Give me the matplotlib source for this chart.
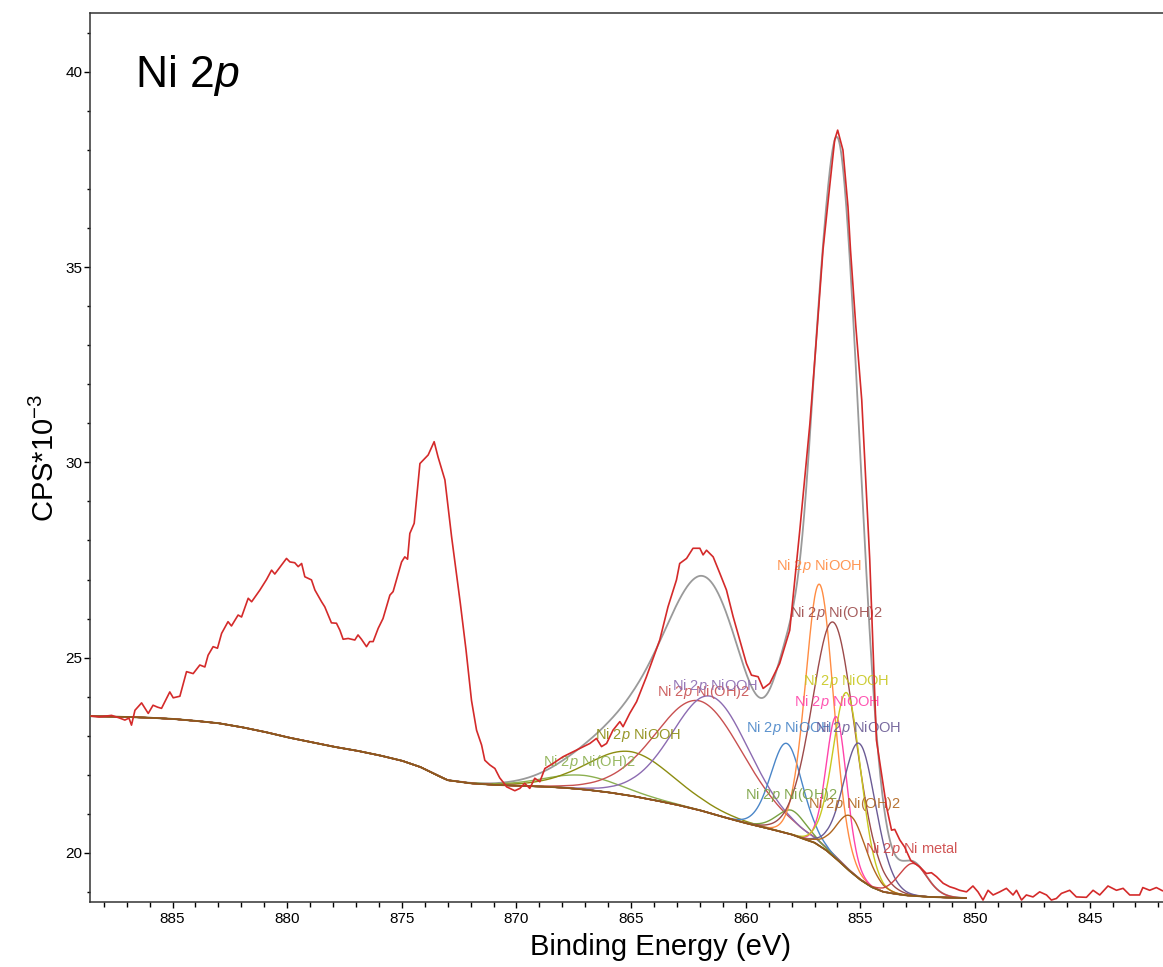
import numpy as np
import matplotlib
matplotlib.use("Agg")
import matplotlib.pyplot as plt
from matplotlib.ticker import MultipleLocator

plt.rcParams['font.family'] = ['Liberation Sans', 'DejaVu Sans']
plt.rcParams['mathtext.fontset'] = 'custom'
plt.rcParams['mathtext.rm'] = 'Liberation Sans'
plt.rcParams['mathtext.it'] = 'Liberation Sans:italic'

# measured spectrum (binding energy in eV, CPS*10^-3)
be_raw = [888.53, 888.2, 887.66, 887.3, 887.08, 886.9, 886.79, 886.64, 886.35, 886.06,
          885.85, 885.65, 885.48, 885.12, 884.97, 884.68, 884.39, 884.10, 883.81, 883.59,
          883.45, 883.23, 883.04, 882.86, 882.58, 882.43, 882.14, 881.99, 881.70, 881.55,
          881.19, 880.9, 880.68, 880.54, 880.25, 880.03, 879.88, 879.67, 879.52, 879.37,
          879.23, 878.94, 878.79, 878.50, 878.36, 878.07, 877.85, 877.70, 877.56, 877.34,
          877.05, 876.91, 876.76, 876.54, 876.40, 876.25, 876.03, 875.82, 875.52, 875.38,
          875.01, 874.87, 874.75, 874.65, 874.46, 874.21, 874.00, 873.85, 873.59, 873.42,
          873.12, 872.83, 872.45, 872.2, 871.96, 871.74, 871.52, 871.38, 871.16, 870.94,
          870.73, 870.54, 870.43, 870.07, 869.85, 869.64, 869.42, 869.20, 868.98, 868.76,
          868.40, 867.97, 867.38, 866.80, 866.51, 866.29, 866.07, 865.79, 865.49, 865.35,
          865.06, 864.76, 864.33, 863.75, 863.39, 863.02, 862.88, 862.58, 862.30, 862.00,
          861.86, 861.71, 861.42, 861.13, 860.84, 860.55, 860.26, 859.97, 859.75, 859.46,
          859.24, 858.95, 858.52, 858.08, 857.64, 857.2, 856.9, 856.63, 856.34, 856.12,
          855.99, 855.76, 855.54, 855.43, 855.2, 854.94, 854.59, 854.30, 853.86, 853.64,
          853.50, 853.28, 853.07, 852.8, 852.41, 852.12, 851.90, 851.68, 851.39, 851.10,
          850.88, 850.67, 850.37, 850.09, 849.87, 849.65, 849.43, 849.21, 848.92, 848.63,
          848.34, 848.19, 847.97, 847.76, 847.47, 847.18, 846.88, 846.67, 846.45, 846.23,
          845.87, 845.58, 845.14, 844.85, 844.56, 844.20, 843.83, 843.54, 843.25, 842.82,
          842.68, 842.38, 842.09, 841.83]
cps_raw = [23.50, 23.48, 23.52, 23.45, 23.40, 23.45, 23.27, 23.65, 23.84, 23.57,
           23.78, 23.73, 23.70, 24.12, 23.97, 24.01, 24.64, 24.59, 24.81, 24.76,
           25.06, 25.28, 25.24, 25.62, 25.92, 25.81, 26.09, 26.04, 26.52, 26.43,
           26.73, 27.00, 27.24, 27.14, 27.37, 27.54, 27.45, 27.43, 27.33, 27.41,
           27.07, 26.99, 26.73, 26.43, 26.30, 25.89, 25.88, 25.70, 25.47, 25.49,
           25.45, 25.58, 25.47, 25.28, 25.41, 25.41, 25.75, 26.00, 26.60, 26.69,
           27.45, 27.58, 27.52, 28.18, 28.44, 29.97, 30.10, 30.19, 30.53, 30.14,
           29.55, 28.10, 26.40, 25.20, 23.90, 23.14, 22.76, 22.37, 22.25, 22.16,
           21.92, 21.78, 21.69, 21.59, 21.65, 21.78, 21.65, 21.91, 21.82, 22.16,
           22.29, 22.46, 22.63, 22.80, 22.93, 22.72, 22.80, 23.14, 23.36, 23.23,
           23.57, 23.87, 24.51, 25.45, 26.30, 26.99, 27.41, 27.54, 27.80, 27.80,
           27.63, 27.75, 27.58, 27.16, 26.73, 26.05, 25.45, 24.85, 24.55, 24.51,
           24.21, 24.34, 24.85, 25.70, 28.27, 31.00, 33.30, 35.44, 37.06, 38.26,
           38.51, 38.00, 36.55, 35.44, 33.50, 31.60, 27.50, 22.89, 21.18, 20.58,
           20.60, 20.33, 20.15, 19.80, 19.64, 19.47, 19.49, 19.39, 19.22, 19.13,
           19.09, 19.04, 19.00, 19.15, 19.00, 18.79, 19.04, 18.92, 19.00, 19.09,
           18.92, 19.04, 18.79, 18.92, 18.87, 19.00, 18.92, 18.79, 18.83, 18.96,
           19.04, 18.87, 18.86, 19.04, 18.92, 19.15, 19.04, 19.09, 18.92, 18.92,
           19.11, 19.04, 19.11, 19.03]

# Shirley background
be_bg = [888.6, 887.0, 886.0, 885.0, 884.0, 883.0, 882.0, 881.0, 880.0, 879.0,
         878.0, 877.0, 876.0, 875.0, 874.2, 873.4, 873.0, 872.0, 871.0, 870.0,
         869.0, 868.0, 867.0, 866.0, 865.0, 864.0, 863.0, 862.0, 861.0, 860.0,
         859.0, 858.0, 857.5, 857.0, 856.5, 856.0, 855.5, 855.0, 854.5, 854.0,
         853.5, 853.0, 852.0, 851.0, 850.4]
cps_bg = [23.50, 23.48, 23.46, 23.43, 23.38, 23.32, 23.22, 23.10, 22.96, 22.84,
          22.72, 22.62, 22.50, 22.36, 22.20, 21.97, 21.86, 21.78, 21.74, 21.72,
          21.70, 21.67, 21.62, 21.55, 21.46, 21.35, 21.23, 21.09, 20.92, 20.76,
          20.62, 20.47, 20.36, 20.26, 20.07, 19.82, 19.55, 19.31, 19.12, 19.00,
          18.95, 18.91, 18.87, 18.85, 18.84]

# fitted components: name, centre (eV), height above background, FWHM (eV)
comp_names = ["Ni(OH)2", "NiOOH", "Ni(OH)2", "NiOOH", "NiOOH", "Ni(OH)2", "NiOOH",
              "Ni(OH)2", "NiOOH", "NiOOH", "NiOOH", "Ni(OH)2", "Ni metal"]
comp_center = [867.1, 865.0, 862.0, 861.5, 858.22, 858.0, 856.78,
               856.15, 856.04, 855.58, 855.03, 855.39, 852.70]
comp_height = [0.36, 1.13, 2.80, 3.00, 2.30, 0.62, 6.70,
               6.00, 3.64, 4.50, 3.47, 1.43, 0.83]
comp_fwhm = [4.0, 4.6, 4.8, 4.2, 1.7, 1.6, 1.5,
             2.3, 1.1, 1.5, 1.75, 1.6, 1.5]

comp_colors = ["#8cb050", "#8c8c10", "#c85050", "#8c6bb1", "#4a86c8", "#78a040", "#ff8c42",
               "#9c4a4a", "#ff44aa", "#c8c820", "#6b5b95", "#b0651e", "#cc4444"]
label_x = [868.85, 866.58, 863.87, 863.22, 860.0, 860.05, 858.69,
           858.08, 857.91, 857.52, 856.98, 857.29, 854.81]
label_y = [22.33, 23.02, 24.12, 24.27, 23.19, 21.48, 27.34,
           26.14, 23.86, 24.40, 23.19, 21.25, 20.10]


def gl30(x, c, h, w, m=0.3):
    d = (x - c) / w
    return h * np.exp(-4 * np.log(2) * (1 - m) * d ** 2) / (1 + 4 * m * d ** 2)


fig = plt.figure(figsize=(11.63, 9.67), dpi=100)
ax = fig.add_axes([90 / 1163, 65 / 967, 1 - 90 / 1163, (902 - 13) / 967])

grid = np.linspace(be_bg[0], be_bg[-1], 2000)
bg = np.interp(grid, be_bg[::-1], cps_bg[::-1])

comps = [gl30(grid, c, h, w) for c, h, w in zip(comp_center, comp_height, comp_fwhm)]
envelope = bg + np.sum(comps, axis=0)

ax.plot(grid, envelope, color="#9a9a9a", lw=1.3, zorder=2)
for i in range(len(comps)):
    ax.plot(grid, bg + comps[i], color=comp_colors[i], lw=1.0, zorder=3)
    ax.text(label_x[i], label_y[i], "Ni $\\mathit{2p}$ " + comp_names[i],
            color=comp_colors[i], fontsize=10.5, ha="left", va="center", alpha=0.9, zorder=5)
ax.plot(be_bg, cps_bg, color="#8a5a1e", lw=1.3, zorder=4)
ax.plot(be_raw, cps_raw, color="#d42a2a", lw=1.2, zorder=6)

ax.set_xlim(888.6, 841.8)
ax.set_ylim(18.74, 41.51)
ax.xaxis.set_major_locator(MultipleLocator(5))
ax.xaxis.set_minor_locator(MultipleLocator(1))
ax.yaxis.set_major_locator(MultipleLocator(5))
ax.yaxis.set_minor_locator(MultipleLocator(1))
ax.tick_params(which="both", direction="out", labelsize=11, width=1.0)
ax.tick_params(which="major", length=4)
ax.tick_params(which="minor", length=2.5)
ax.tick_params(axis="x", which="minor", length=3.5)
ax.tick_params(axis="y", pad=1.5)
ax.spines["right"].set_visible(False)
for s in ["left", "top", "bottom"]:
    ax.spines[s].set_linewidth(1.1)
    ax.spines[s].set_color("#333333")

ax.set_xlabel("Binding Energy (eV)", fontsize=21)
# the original frame runs past the picture's right edge, so the label sits right of centre
ax.xaxis.set_label_coords((661 - 90) / (1163 - 90), -0.035)
ax.set_ylabel("CPS*10$^{-3}$", fontsize=21)
ax.text(0.042, 0.93, "Ni $\\mathit{2p}$", transform=ax.transAxes, fontsize=32,
        ha="left", va="center")

fig.savefig("out.png", dpi=100)
